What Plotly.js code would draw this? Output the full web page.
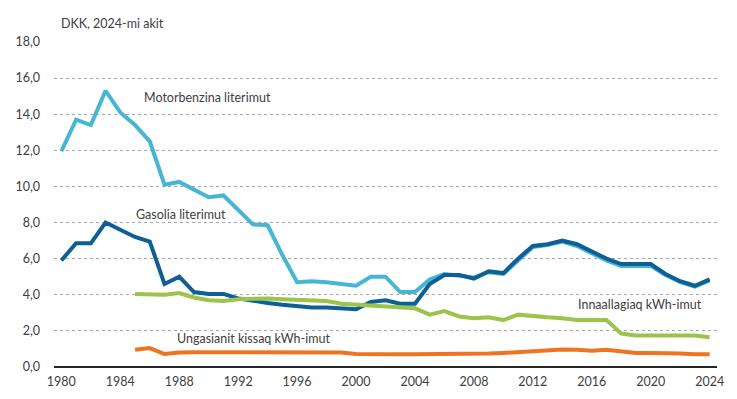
<!DOCTYPE html>
<html>
<head>
<meta charset="utf-8">
<script src="https://cdn.plot.ly/plotly-3.0.1.min.js"></script>
<style>html,body{margin:0;padding:0;background:#fff;}#chart{width:737px;height:399px;}</style>
</head>
<body>
<div id="chart"></div>
<script>
const years = [];
for (let y = 1980; y <= 2024; y++) years.push(y);
const yearsFrom1985 = years.filter(y => y >= 1985);

const motorbenzina = [11.95,13.7,13.4,15.3,14.1,13.4,12.5,10.1,10.25,9.8,9.4,9.5,8.7,7.9,7.85,6.2,4.7,4.75,4.7,4.6,4.5,5.0,5.0,4.15,4.15,4.85,5.15,5.05,4.95,5.25,5.15,5.9,6.65,6.75,6.95,6.7,6.3,5.9,5.6,5.6,5.6,5.1,4.7,4.45,4.8];
const gasolie = [5.9,6.85,6.85,8.0,7.6,7.2,6.95,4.6,5.0,4.15,4.05,4.05,3.8,3.65,3.55,3.45,3.35,3.3,3.3,3.25,3.2,3.6,3.7,3.5,3.5,4.6,5.1,5.1,4.9,5.3,5.2,6.0,6.7,6.8,7.0,6.8,6.4,6.0,5.7,5.7,5.7,5.15,4.75,4.5,4.85];
const innaallagiaq = [4.05,4.05,4.0,4.1,3.85,3.7,3.65,3.75,3.8,3.8,3.75,3.7,3.7,3.65,3.5,3.45,3.4,3.4,3.3,3.25,2.9,3.1,2.8,2.7,2.75,2.6,2.9,2.8,2.75,2.7,2.6,2.6,2.6,1.85,1.75,1.75,1.75,1.75,1.75,1.65];
const ungasianit = [0.95,1.05,0.72,0.8,0.82,0.82,0.82,0.82,0.82,0.82,0.82,0.82,0.82,0.8,0.8,0.72,0.7,0.7,0.7,0.7,0.7,0.72,0.75,0.7,0.75,0.78,0.82,0.9,0.95,0.97,0.95,0.9,0.95,0.85,0.78,0.78,0.78,0.75,0.7,0.7];

const xTicks = [1980,1984,1988,1992,1996,2000,2004,2008,2012,2016,2020,2024];
const yTicks = [0,2,4,6,8,10,12,14,16,18];

const labels = {
  unit: "DKK, 2024-mi akit",
  benzin: "Motorbenzina literimut",
  gasolie: "Gasolia literimut",
  el: "Innaallagiaq kWh-imut",
  varme: "Ungasianit kissaq kWh-imut"
};

const lw = 4;
const traces = [
  {x: yearsFrom1985, y: ungasianit, mode: 'lines', line: {color: '#ef7420', width: lw}, name: labels.varme},
  {x: years, y: motorbenzina, mode: 'lines', line: {color: '#47b5d4', width: lw}, name: labels.benzin},
  {x: years, y: gasolie, mode: 'lines', line: {color: '#0d5f96', width: lw}, name: labels.gasolie},
  {x: yearsFrom1985, y: innaallagiaq, mode: 'lines', line: {color: '#9cc34a', width: lw}, name: labels.el}
];

const fnt = {family: 'Lato, "Open Sans", sans-serif', size: 12.5, color: '#404040'};

const layout = {
  width: 737, height: 399,
  margin: {l: 54, r: 20, t: 42, b: 32},
  paper_bgcolor: '#fff', plot_bgcolor: '#fff',
  showlegend: false,
  separators: ',.',
  font: fnt,
  xaxis: {
    range: [1979.5, 2024.5],
    tickvals: xTicks,
    ticktext: xTicks.map(String),
    showgrid: false, zeroline: false, showline: false,
    ticks: '', ticklabelstandoff: 5,
    tickfont: fnt, fixedrange: true
  },
  yaxis: {
    range: [0, 18],
    tickvals: yTicks,
    tickformat: '.1f',
    showgrid: true, gridcolor: '#a6a6a6', griddash: 'dot', gridwidth: 1,
    zeroline: true, zerolinecolor: '#262626', zerolinewidth: 1.5,
    showline: false, ticks: '', ticklabelstandoff: 13,
    tickfont: fnt, fixedrange: true
  },
  annotations: [
    {text: labels.unit, xref: 'paper', yref: 'paper', x: 0.0075, y: 1.058, xanchor: 'left', yanchor: 'middle', showarrow: false, font: fnt},
    {text: labels.benzin, x: 1985.47, y: 14.94, xanchor: 'left', yanchor: 'middle', showarrow: false, font: fnt},
    {text: labels.gasolie, x: 1984.93, y: 8.46, xanchor: 'left', yanchor: 'middle', showarrow: false, font: fnt},
    {text: labels.el, x: 2014.94, y: 3.47, xanchor: 'left', yanchor: 'middle', showarrow: false, font: fnt},
    {text: labels.varme, x: 1987.71, y: 1.59, xanchor: 'left', yanchor: 'middle', showarrow: false, font: fnt}
  ]
};

Plotly.newPlot('chart', traces, layout, {staticPlot: true, displayModeBar: false});
</script>
</body>
</html>
